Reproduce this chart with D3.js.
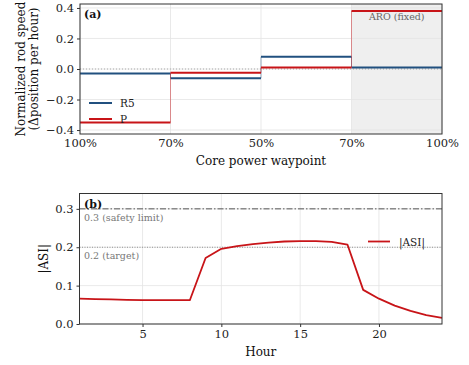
<!DOCTYPE html>
<html>
<head>
<meta charset="utf-8">
<script src="https://cdn.jsdelivr.net/npm/d3@7"></script>
<style>
  body { margin: 0; background: #fff; }
  svg text { font-family: "DejaVu Serif", serif; }
</style>
</head>
<body>
<div id="chart"></div>
<script>
// panel (a) data
let waypoints = ["100%", "70%", "50%", "70%", "100%"];
let r5Speed = [-0.03, -0.06, 0.08, 0.01];
let pSpeed = [-0.35, -0.025, 0.01, 0.38];
let speedTicks = [-0.4, -0.2, 0.0, 0.2, 0.4];

// panel (b) data
let hours = [1, 2, 3, 4, 5, 6, 7, 8, 9, 10, 11, 12, 13, 14, 15, 16, 17, 18, 19, 20, 21, 22, 23, 24];
let asi = [0.066, 0.065, 0.064, 0.063, 0.062, 0.062, 0.062, 0.062, 0.172, 0.196, 0.203, 0.208, 0.212, 0.215, 0.216, 0.216, 0.214, 0.207, 0.089, 0.066, 0.048, 0.034, 0.023, 0.016];
let asiTicks = [0.0, 0.1, 0.2, 0.3];
let hourTicks = [5, 10, 15, 20];

let blue = "#21507f", red = "#c81418";
let width = 469, height = 365;

let svg = d3.select("#chart").append("svg")
    .attr("width", width)
    .attr("height", height);

// ---------- panel (a) ----------
let xA = d3.scaleLinear().domain([0, 4]).range([80, 442]);
let yA = d3.scaleLinear().domain([-0.426, 0.426]).range([134, 4]);

let gA = svg.append("g");

// shaded ARO region
gA.append("rect")
    .attr("x", xA(3)).attr("y", yA(0.426))
    .attr("width", xA(4) - xA(3)).attr("height", yA(-0.426) - yA(0.426))
    .attr("fill", "#efefef");

// grid
gA.selectAll(".gx").data(d3.range(5)).enter().append("line")
    .attr("x1", d => xA(d)).attr("x2", d => xA(d))
    .attr("y1", yA(0.426)).attr("y2", yA(-0.426))
    .attr("stroke", "#e3e3e3").attr("stroke-width", 0.8);
gA.selectAll(".gy").data(speedTicks).enter().append("line")
    .attr("x1", xA(0)).attr("x2", xA(4))
    .attr("y1", d => yA(d)).attr("y2", d => yA(d))
    .attr("stroke", "#e3e3e3").attr("stroke-width", 0.8);

// zero line
gA.append("line")
    .attr("x1", xA(0)).attr("x2", xA(4))
    .attr("y1", yA(0)).attr("y2", yA(0))
    .attr("stroke", "#999").attr("stroke-width", 0.8)
    .attr("stroke-dasharray", "1,2");

gA.append("text")
    .attr("x", (xA(3) + xA(4)) / 2).attr("y", 20)
    .attr("text-anchor", "middle")
    .attr("font-size", "9.5px").attr("fill", "#666")
    .text("ARO (fixed)");

function drawSteps(g, vals, color) {
    // thin risers
    for (let i = 1; i < vals.length; i++) {
        g.append("line")
            .attr("x1", xA(i)).attr("x2", xA(i))
            .attr("y1", yA(vals[i - 1])).attr("y2", yA(vals[i]))
            .attr("stroke", color).attr("stroke-width", 1)
            .attr("stroke-opacity", 0.45);
    }
    // thick flats
    vals.forEach((v, i) => {
        g.append("line")
            .attr("x1", xA(i)).attr("x2", xA(i + 1))
            .attr("y1", yA(v)).attr("y2", yA(v))
            .attr("stroke", color).attr("stroke-width", 2);
    });
}
drawSteps(gA, r5Speed, blue);
drawSteps(gA, pSpeed, red);

// frame
gA.append("rect")
    .attr("x", xA(0)).attr("y", yA(0.426))
    .attr("width", xA(4) - xA(0)).attr("height", yA(-0.426) - yA(0.426))
    .attr("fill", "none").attr("stroke", "#333").attr("stroke-width", 1);

// axes
let axA = gA.append("g").attr("transform", `translate(0,${yA(-0.426)})`)
    .call(d3.axisBottom(xA).tickValues(d3.range(5)).tickFormat(d => waypoints[d]).tickSize(0).tickPadding(5));
let ayA = gA.append("g").attr("transform", `translate(${xA(0)},0)`)
    .call(d3.axisLeft(yA).tickValues(speedTicks).tickFormat(d => d3.format(".1f")(d).replace("-", "\u2212")).tickSize(3).tickPadding(3));
[axA, ayA].forEach(a => {
    a.select(".domain").remove();
    a.selectAll("text").attr("font-size", "11.5px").attr("fill", "#222").style("font-family", "DejaVu Serif");
    a.selectAll("line").attr("stroke", "#333");
});

gA.append("text").attr("x", 84).attr("y", 18)
    .attr("font-size", "11px").attr("font-weight", "bold").attr("fill", "#111")
    .text("(a)");

gA.append("text")
    .attr("x", (xA(0) + xA(4)) / 2).attr("y", 165)
    .attr("text-anchor", "middle").attr("font-size", "12px").attr("fill", "#111")
    .text("Core power waypoint");

let ylab = gA.append("text")
    .attr("transform", `translate(25,${yA(0)}) rotate(-90)`)
    .attr("text-anchor", "middle").attr("font-size", "12px").attr("fill", "#111");
ylab.append("tspan").attr("x", 0).attr("dy", 0).text("Normalized rod speed");
ylab.append("tspan").attr("x", 0).attr("dy", 13).text("(\u0394position per hour)");

// legend (a)
let legA = [{ name: "R5", color: blue }, { name: "P", color: red }];
legA.forEach((d, i) => {
    let y = 103 + i * 16;
    gA.append("line").attr("x1", 89).attr("x2", 112).attr("y1", y).attr("y2", y)
        .attr("stroke", d.color).attr("stroke-width", 2);
    gA.append("text").attr("x", 120).attr("y", y + 4)
        .attr("font-size", "10.5px").attr("fill", "#222").text(d.name);
});

// ---------- panel (b) ----------
let xB = d3.scaleLinear().domain([1, 24]).range([79.5, 442]);
let yB = d3.scaleLinear().domain([0, 0.34]).range([324, 193.5]);
let gB = svg.append("g");

gB.selectAll(".gx").data(hourTicks).enter().append("line")
    .attr("x1", d => xB(d)).attr("x2", d => xB(d))
    .attr("y1", yB(0.34)).attr("y2", yB(0))
    .attr("stroke", "#e3e3e3").attr("stroke-width", 0.8);
gB.selectAll(".gy").data(asiTicks).enter().append("line")
    .attr("x1", xB(1)).attr("x2", xB(24))
    .attr("y1", d => yB(d)).attr("y2", d => yB(d))
    .attr("stroke", "#e3e3e3").attr("stroke-width", 0.8);

// reference lines
gB.append("line").attr("x1", xB(1)).attr("x2", xB(24))
    .attr("y1", yB(0.3)).attr("y2", yB(0.3))
    .attr("stroke", "#444").attr("stroke-width", 0.9).attr("stroke-dasharray", "6,2,1.5,2");
gB.append("line").attr("x1", xB(1)).attr("x2", xB(24))
    .attr("y1", yB(0.2)).attr("y2", yB(0.2))
    .attr("stroke", "#777").attr("stroke-width", 0.8).attr("stroke-dasharray", "1,1.5");
gB.append("text").attr("x", 84).attr("y", yB(0.3) + 12)
    .attr("font-size", "9.5px").attr("fill", "#777").text("0.3 (safety limit)");
gB.append("text").attr("x", 84).attr("y", yB(0.2) + 12)
    .attr("font-size", "9.5px").attr("fill", "#777").text("0.2 (target)");

let line = d3.line().x((d, i) => xB(hours[i])).y(d => yB(d));
gB.append("path").datum(asi)
    .attr("d", line).attr("fill", "none")
    .attr("stroke", red).attr("stroke-width", 1.8).attr("stroke-linejoin", "round");

gB.append("rect")
    .attr("x", xB(1)).attr("y", yB(0.34))
    .attr("width", xB(24) - xB(1)).attr("height", yB(0) - yB(0.34))
    .attr("fill", "none").attr("stroke", "#333").attr("stroke-width", 1);

let axB = gB.append("g").attr("transform", `translate(0,${yB(0)})`)
    .call(d3.axisBottom(xB).tickValues(hourTicks).tickSize(3).tickPadding(3));
let ayB = gB.append("g").attr("transform", `translate(${xB(1)},0)`)
    .call(d3.axisLeft(yB).tickValues(asiTicks).tickFormat(d3.format(".1f")).tickSize(3).tickPadding(3));
[axB, ayB].forEach(a => {
    a.select(".domain").remove();
    a.selectAll("text").attr("font-size", "11.5px").attr("fill", "#222").style("font-family", "DejaVu Serif");
    a.selectAll("line").attr("stroke", "#333");
});

gB.append("text").attr("x", 84).attr("y", 208)
    .attr("font-size", "11px").attr("font-weight", "bold").attr("fill", "#111")
    .text("(b)");

gB.append("text").attr("x", (xB(1) + xB(24)) / 2).attr("y", 356)
    .attr("text-anchor", "middle").attr("font-size", "12px").attr("fill", "#111")
    .text("Hour");
gB.append("text")
    .attr("transform", `translate(48,${(yB(0) + yB(0.34)) / 2}) rotate(-90)`)
    .attr("text-anchor", "middle").attr("font-size", "12px").attr("fill", "#111")
    .text("|ASI|");

// legend (b)
gB.append("line").attr("x1", 368).attr("x2", 390).attr("y1", 241.5).attr("y2", 241.5)
    .attr("stroke", red).attr("stroke-width", 1.8);
gB.append("text").attr("x", 399).attr("y", 245.5)
    .attr("font-size", "10.5px").attr("fill", "#222").text("|ASI|");
</script>
</body>
</html>
